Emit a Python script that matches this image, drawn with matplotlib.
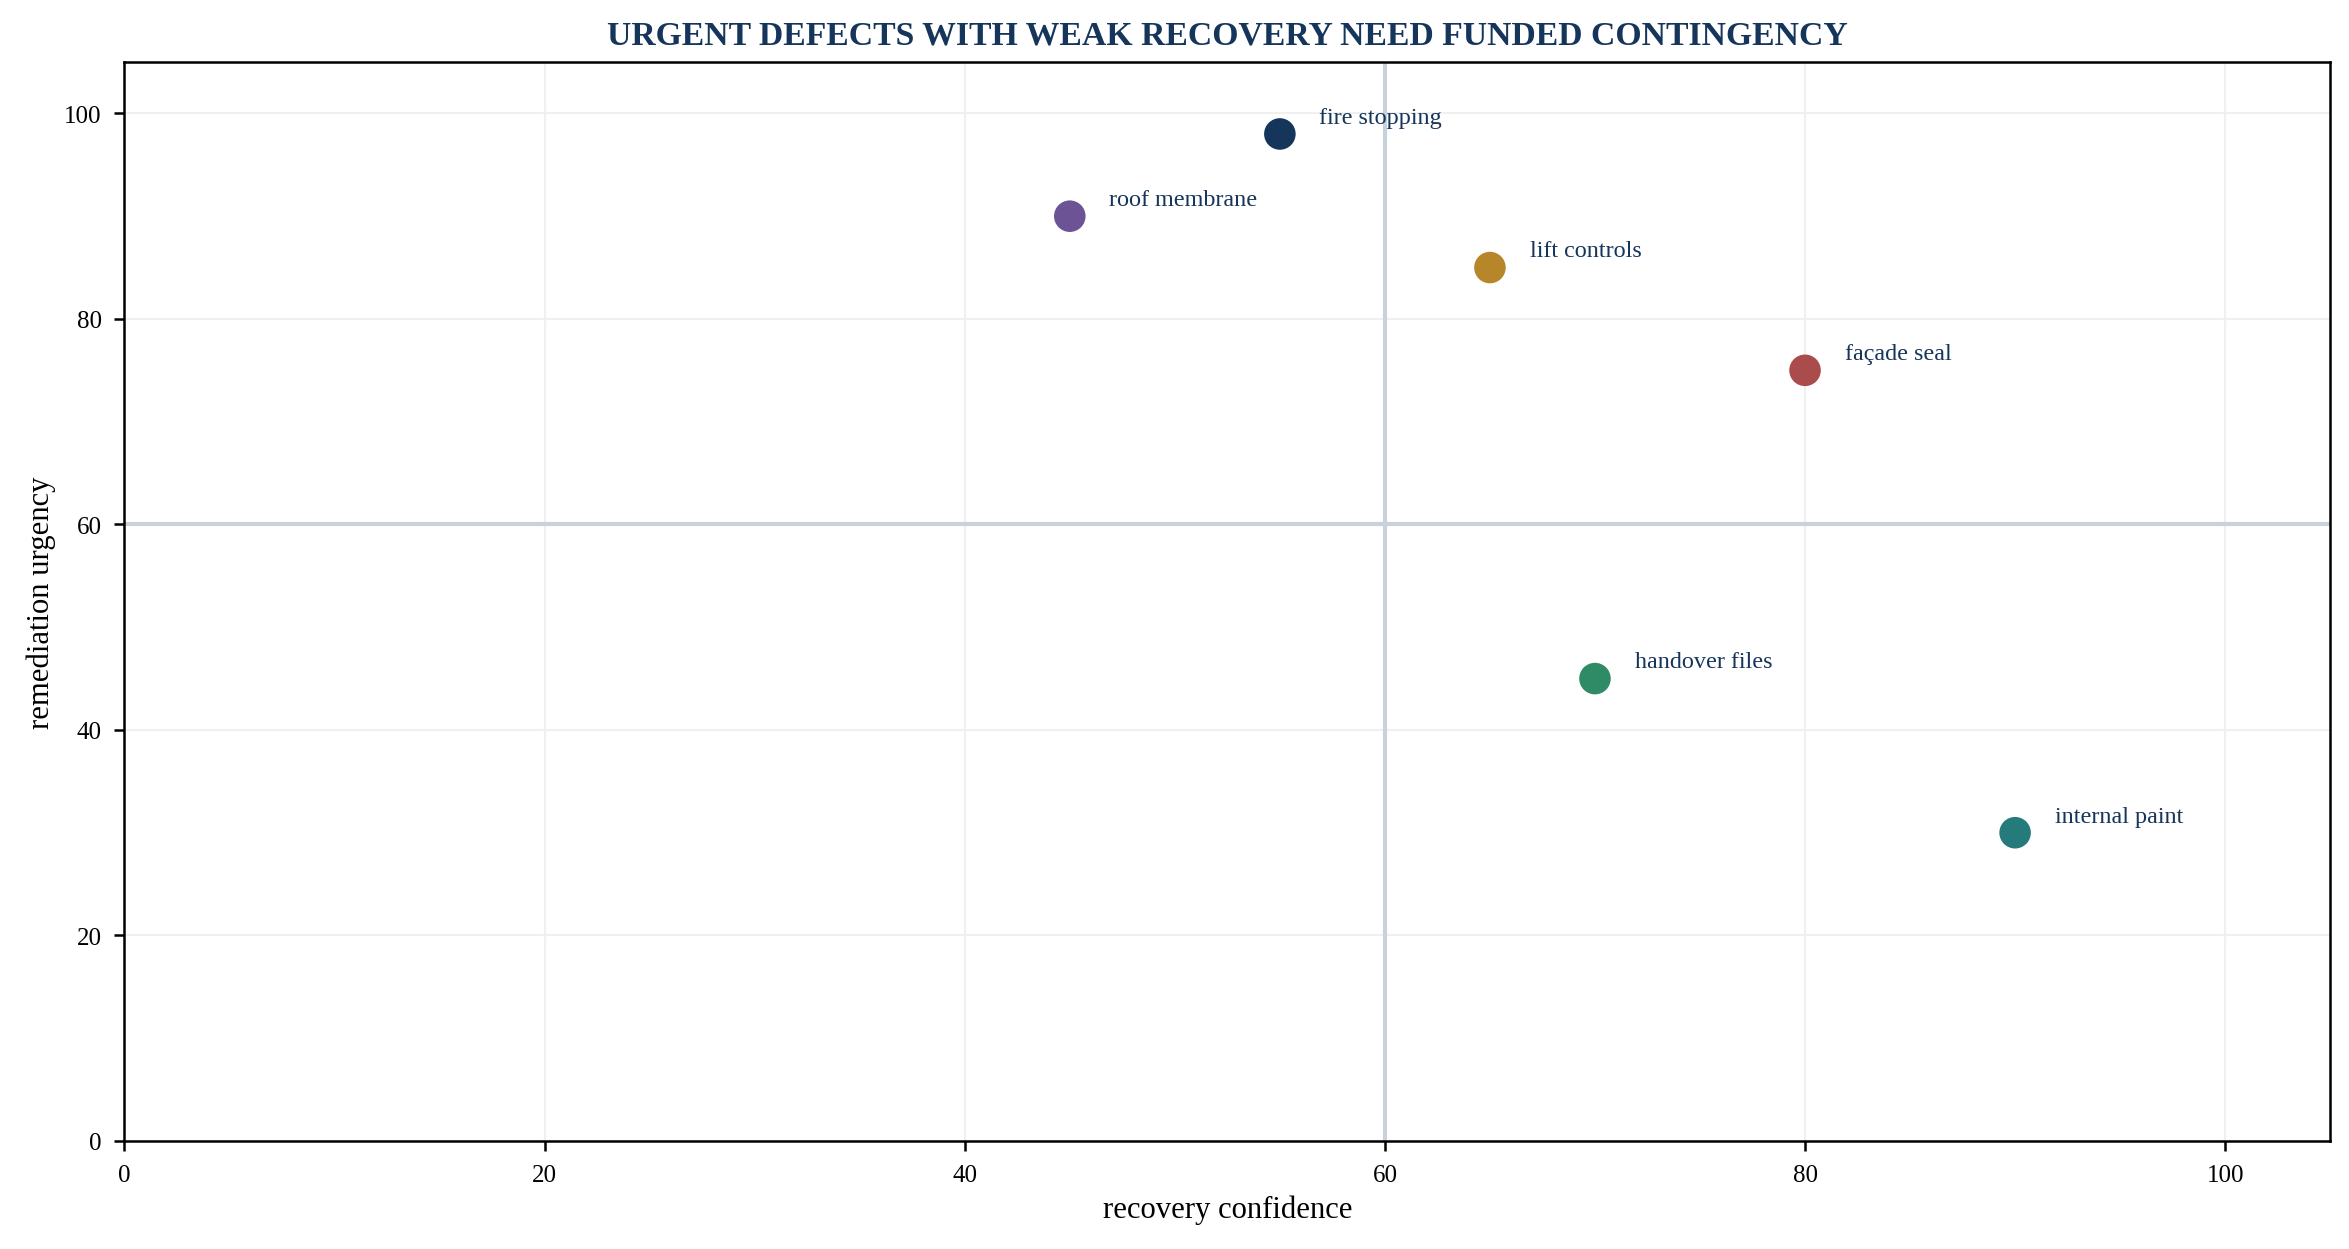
import matplotlib.pyplot as plt

# defect register positions
labels = ['fire stopping', 'roof membrane', 'lift controls', 'façade seal',
          'handover files', 'internal paint']
confidence = [55, 45, 65, 80, 70, 90]
urgency = [98, 90, 85, 75, 45, 30]
colors = ['#15355a', '#6b5396', '#b8862a', '#aa4b4c', '#2f8b66', '#257b7c']

plt.rcParams['font.family'] = ['Liberation Serif', 'DejaVu Serif']

fig = plt.figure(figsize=(15.66, 8.333), dpi=150)
ax = fig.add_axes([0.053, 0.0864, 0.939, 0.8632])

ax.set_axisbelow(True)
ax.grid(True, color='#f0f0f0', linewidth=1.0)
ax.axvline(60, color='#c9d2db', linewidth=2.0, zorder=2)
ax.axhline(60, color='#c9d2db', linewidth=2.0, zorder=2)

ax.scatter(confidence, urgency, s=200, c=colors, zorder=3)
for x, y, name in zip(confidence, urgency, labels):
    ax.annotate(name, (x, y), xytext=(19, 8), textcoords='offset points',
                fontsize=11.6, color='#15355a', va='center', ha='left')

ax.set_xlim(0, 105)
ax.set_ylim(0, 105)
ax.set_xticks([0, 20, 40, 60, 80, 100])
ax.set_yticks([0, 20, 40, 60, 80, 100])
ax.tick_params(labelsize=12, length=5, width=1.2, pad=6)
for sp in ax.spines.values():
    sp.set_linewidth(1.2)

ax.set_xlabel('recovery confidence', fontsize=14.7)
ax.set_ylabel('remediation urgency', fontsize=14.7)
ax.set_title('URGENT DEFECTS WITH WEAK RECOVERY NEED FUNDED CONTINGENCY',
             fontsize=16.2, fontweight='bold', color='#15355a', pad=9)

fig.savefig('out.png', dpi=150)
